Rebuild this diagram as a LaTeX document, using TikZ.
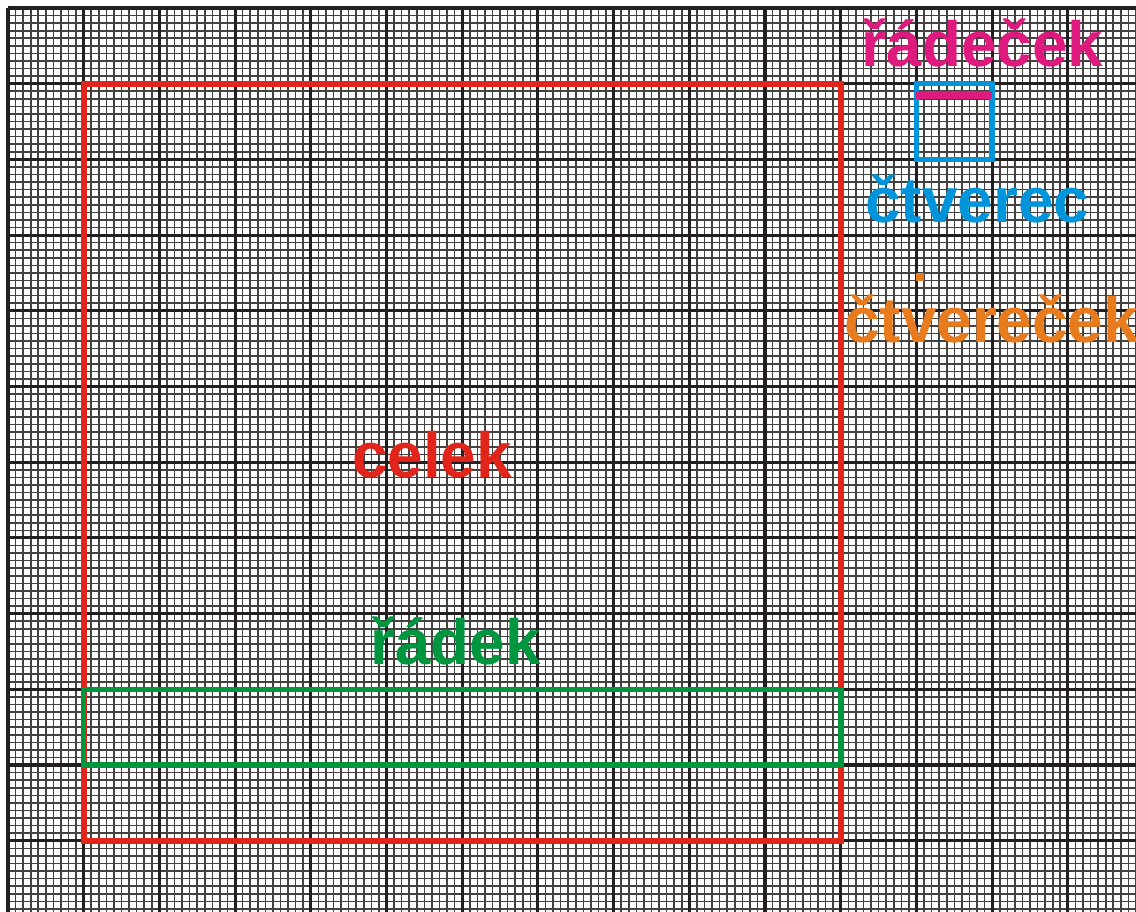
\documentclass[tikz,border=0pt]{standalone}
\usepackage{fontspec}
\setmainfont{Liberation Sans}
\usepackage{xcolor}
\definecolor{GRcol}{HTML}{231F20}
\definecolor{REDcol}{HTML}{E1251B}
\definecolor{GREENcol}{HTML}{00963F}
\definecolor{BLUEcol}{HTML}{0095DA}
\definecolor{MAGcol}{HTML}{DE1A7E}
\definecolor{ORcol}{HTML}{E87B1E}
\usepackage{tikz}
\usetikzlibrary{calc,positioning}

\begin{document}
\begin{tikzpicture}[
            minor/.style={draw=GRcol!85, line width=0.6pt},
            major/.style={draw=GRcol, line width=1.2pt},
            box/.style={line width=2.3pt},
            lbl/.style={anchor=base west, inner sep=0pt,
                        font=\bfseries\fontsize{24}{28}\selectfont}]
        \useasboundingbox (-0.1057,0.1057) rectangle (14.901,-11.929);
        \clip (-0.1057,0.1057) rectangle (14.901,-11.929);
        % millimetre paper
        \draw[minor, step=0.1] (0,0) grid (15.2,-12.2);
        \draw[major, step=1]   (0,0) grid (15.2,-12.2);
        % frames
        \draw[box, REDcol]   (1,-1) rectangle (11,-11);
        \draw[box, line width=2.1pt, GREENcol] (1,-9) rectangle (11,-10);
        \draw[box, line width=2.1pt, BLUEcol]  (12,-1) rectangle (13,-2);
        \fill[MAGcol] (12,-1.1) rectangle (13,-1.2);
        \fill[ORcol]  (12,-3.5) rectangle (12.1,-3.6);
        % labels
        \node[lbl, text=MAGcol]   (radecek)   at (11.27,-0.779) {řádeček};
        \node[lbl, text=BLUEcol]  (ctverec)   at (11.32,-2.827) {čtverec};
        \node[lbl, text=ORcol]    (ctverecek) at (11.04,-4.425) {čtvereček};
        \node[lbl, text=REDcol]   (celek)     at (4.54,-6.196)  {celek};
        \node[lbl, text=GREENcol] (radek)     at (4.78,-8.679)  {řádek};
      \end{tikzpicture}
\end{document}
